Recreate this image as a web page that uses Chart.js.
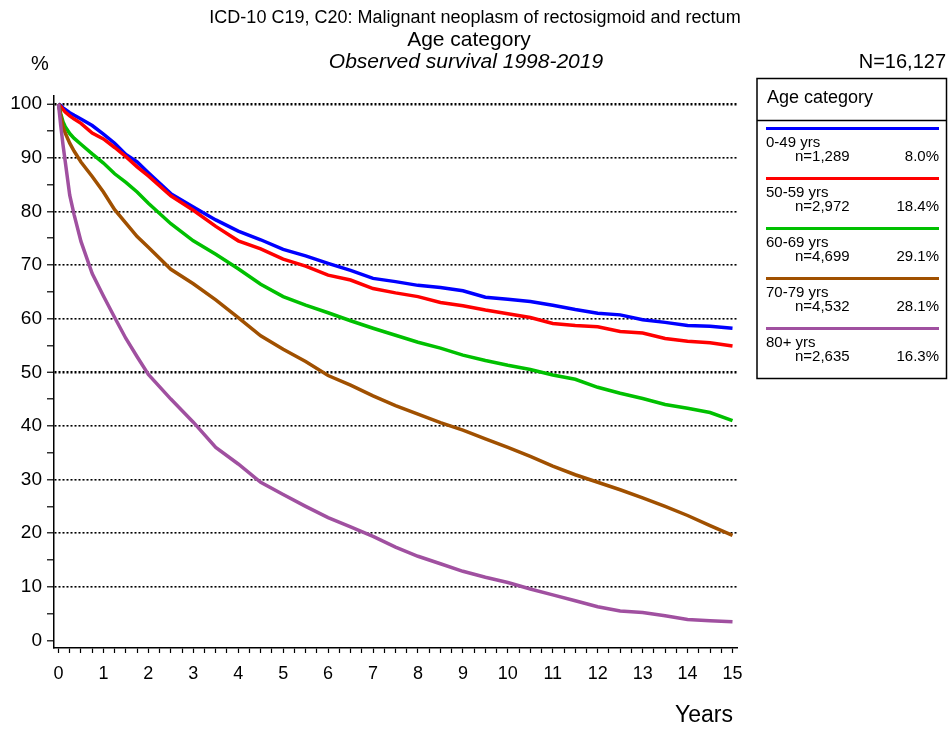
<!DOCTYPE html>
<html>
<head>
<meta charset="utf-8">
<script src="https://cdn.jsdelivr.net/npm/chart.js@4.4.1/dist/chart.umd.min.js"></script>
<style>
html, body { margin: 0; padding: 0; background: #fff; }
</style>
</head>
<body>
<canvas id="survChart" width="949" height="731"></canvas>
<script>
// follow-up time in years
var years = [0, 0.05, 0.1, 0.15, 0.25, 0.35, 0.5, 0.75, 1, 1.25, 1.5, 1.75, 2, 2.5, 3, 3.5, 4, 4.5, 5, 5.5, 6, 6.5, 7,
    7.5, 8, 8.5, 9, 9.5, 10, 10.5, 11, 11.5, 12, 12.5, 13, 13.5, 14, 14.5, 15];

// observed survival (%) per age group
var surv0to49 = [100, 99.7, 99.3, 99.0, 98.4, 97.9, 97.2, 96.0, 94.4, 92.7, 90.6, 89.2, 87.2, 83.3, 80.8, 78.4, 76.3, 74.7, 72.9, 71.7, 70.3, 69.0, 67.5,
    66.9, 66.2, 65.8, 65.2, 64.0, 63.6, 63.2, 62.5, 61.7, 61.0, 60.7, 59.8, 59.3, 58.7, 58.6, 58.2];
var surv50to59 = [100, 99.5, 99.0, 98.5, 97.8, 97.2, 96.4, 94.6, 93.5, 91.9, 90.2, 88.3, 86.6, 82.9, 80.2, 77.2, 74.5, 73.0, 71.1, 69.8, 68.1, 67.2, 65.6,
    64.8, 64.1, 63.0, 62.4, 61.6, 60.9, 60.2, 59.1, 58.7, 58.5, 57.6, 57.3, 56.3, 55.8, 55.5, 54.9];
var surv60to69 = [100, 98.2, 96.7, 95.8, 94.5, 93.6, 92.5, 90.7, 89.0, 87.0, 85.4, 83.6, 81.5, 77.7, 74.5, 72.0, 69.3, 66.4, 64.1, 62.5, 61.1, 59.6, 58.2,
    56.9, 55.6, 54.5, 53.2, 52.2, 51.3, 50.5, 49.5, 48.7, 47.2, 46.1, 45.1, 44.0, 43.3, 42.5, 41.0];
var surv70to79 = [100, 97.8, 95.8, 94.6, 92.7, 91.2, 89.2, 86.5, 83.6, 80.3, 77.8, 75.3, 73.3, 69.2, 66.5, 63.5, 60.2, 56.8, 54.3, 52.0, 49.4, 47.6, 45.6,
    43.8, 42.2, 40.6, 39.2, 37.6, 36.0, 34.3, 32.5, 30.9, 29.5, 28.1, 26.6, 25.0, 23.3, 21.4, 19.6];
var surv80plus = [100, 96.0, 92.4, 89.3, 83.0, 79.3, 74.4, 68.4, 64.2, 60.2, 56.3, 52.9, 49.6, 45.0, 40.7, 36.0, 32.9, 29.5, 27.2, 25.0, 22.9, 21.2, 19.4,
    17.4, 15.7, 14.3, 12.9, 11.8, 10.8, 9.6, 8.5, 7.4, 6.3, 5.5, 5.2, 4.6, 3.9, 3.7, 3.5];

var groupNames = ['0-49 yrs', '50-59 yrs', '60-69 yrs', '70-79 yrs', '80+ yrs'];
var groupCounts = ['n=1,289', 'n=2,972', 'n=4,699', 'n=4,532', 'n=2,635'];
var groupShares = ['8.0%', '18.4%', '29.1%', '28.1%', '16.3%'];
var groupColors = ['#0000ff', '#ff0000', '#00c000', '#a05000', '#a050a0'];

var xTickLabels = [0, 1, 2, 3, 4, 5, 6, 7, 8, 9, 10, 11, 12, 13, 14, 15];
var yTickLabels = [0, 10, 20, 30, 40, 50, 60, 70, 80, 90, 100];

var FONT = '"Liberation Sans", Arial, Helvetica, sans-serif';
Chart.defaults.font.family = FONT;
Chart.defaults.color = '#000';

// minor ticks: quarter years on x, 5% on y
var xTicks = [];
for (var q = 0; q <= 15 * 4; q++) xTicks.push(q / 4);
var yTicks = [];
for (var p = 0; p <= 100; p += 5) yTicks.push(p);

function toPoints(vals) {
    return years.map(function (t, i) { return {x: t, y: vals[i]}; });
}

var allSeries = [surv0to49, surv50to59, surv60to69, surv70to79, surv80plus];
var datasets = allSeries.map(function (vals, i) {
    return {
        label: groupNames[i],
        data: toPoints(vals),
        borderColor: groupColors[i],
        backgroundColor: groupColors[i],
        borderWidth: 3.5,
        pointRadius: 0,
        tension: 0,
        fill: false,
        order: 5 - i
    };
});

var extraText = {
    id: 'extraText',
    afterDraw: function (chart) {
        var ctx = chart.ctx;
        ctx.save();
        ctx.fillStyle = '#000';
        ctx.textBaseline = 'middle';

        ctx.textAlign = 'center';
        ctx.font = '18px ' + FONT;
        ctx.fillText('ICD-10 C19, C20: Malignant neoplasm of rectosigmoid and rectum', 475, 18);
        ctx.font = '21px ' + FONT;
        ctx.fillText('Age category', 469, 40);
        ctx.font = 'italic 21px ' + FONT;
        ctx.fillText('Observed survival 1998-2019', 466, 62);
        ctx.font = '20px ' + FONT;
        ctx.fillText('%', 40, 64);

        ctx.textAlign = 'right';
        ctx.fillText('N=16,127', 946, 62);
        ctx.font = '23px ' + FONT;
        ctx.fillText('Years', 733, 716);

        // legend box
        ctx.strokeStyle = '#000';
        ctx.lineWidth = 1.5;
        ctx.strokeRect(757, 78.5, 189.5, 300);
        ctx.beginPath();
        ctx.moveTo(757, 120.5);
        ctx.lineTo(946.5, 120.5);
        ctx.stroke();

        ctx.textAlign = 'left';
        ctx.font = '18px ' + FONT;
        ctx.fillText('Age category', 767, 98);

        for (var i = 0; i < groupNames.length; i++) {
            var y0 = 128.5 + 50 * i;
            ctx.strokeStyle = groupColors[i];
            ctx.lineWidth = 3;
            ctx.beginPath();
            ctx.moveTo(766, y0);
            ctx.lineTo(939, y0);
            ctx.stroke();

            ctx.font = '15px ' + FONT;
            ctx.textAlign = 'left';
            ctx.fillText(groupNames[i], 766, y0 + 14);
            ctx.fillText(groupCounts[i], 795, y0 + 28.5);
            ctx.textAlign = 'right';
            ctx.fillText(groupShares[i], 939, y0 + 28.5);
        }
        ctx.restore();
    }
};

var ctxSurv = document.getElementById('survChart');

var survChart = new Chart(ctxSurv, {
    type: 'line',
    data: {datasets: datasets},
    plugins: [extraText],
    options: {
        responsive: false,
        animation: false,
        devicePixelRatio: 1,
        layout: {padding: {top: 96, right: 212, left: 0, bottom: 0}},
        plugins: {
            legend: {display: false},
            tooltip: {enabled: false},
            title: {display: false}
        },
        scales: {
            x: {
                type: 'linear',
                min: -0.1,
                max: 15.1,
                afterFit: function (s) { s.height = 83; },
                afterBuildTicks: function (s) {
                    s.ticks = xTicks.map(function (v) { return {value: v}; });
                },
                ticks: {
                    autoSkip: false,
                    maxRotation: 0,
                    padding: 10,
                    font: {size: 18},
                    color: '#000',
                    callback: function (v) {
                        return xTickLabels.indexOf(v) >= 0 ? String(v) : '';
                    }
                },
                grid: {
                    drawOnChartArea: false,
                    drawTicks: true,
                    tickLength: 5,
                    tickColor: '#000',
                    tickWidth: 1.2
                },
                border: {color: '#000', width: 1.5}
            },
            y: {
                type: 'linear',
                min: -1.4,
                max: 101.5,
                afterFit: function (s) { s.width = 54; },
                afterBuildTicks: function (s) {
                    s.ticks = yTicks.map(function (v) { return {value: v}; });
                },
                ticks: {
                    autoSkip: false,
                    padding: 5,
                    font: {size: 19},
                    color: '#000',
                    callback: function (v) {
                        return yTickLabels.indexOf(v) >= 0 ? String(v) : '';
                    }
                },
                grid: {
                    color: function (c) {
                        var v = c.tick ? c.tick.value : 0;
                        return (v > 0 && yTickLabels.indexOf(v) >= 0) ? '#000' : 'rgba(0,0,0,0)';
                    },
                    lineWidth: function (c) {
                        var v = c.tick ? c.tick.value : 0;
                        return (v === 50 || v === 100) ? 2.5 : 1.6;
                    },
                    tickColor: '#000',
                    tickLength: 7,
                    tickWidth: 1.2
                },
                border: {color: '#000', width: 1.5, dash: [2, 2]}
            }
        }
    }
});
</script>
</body>
</html>
